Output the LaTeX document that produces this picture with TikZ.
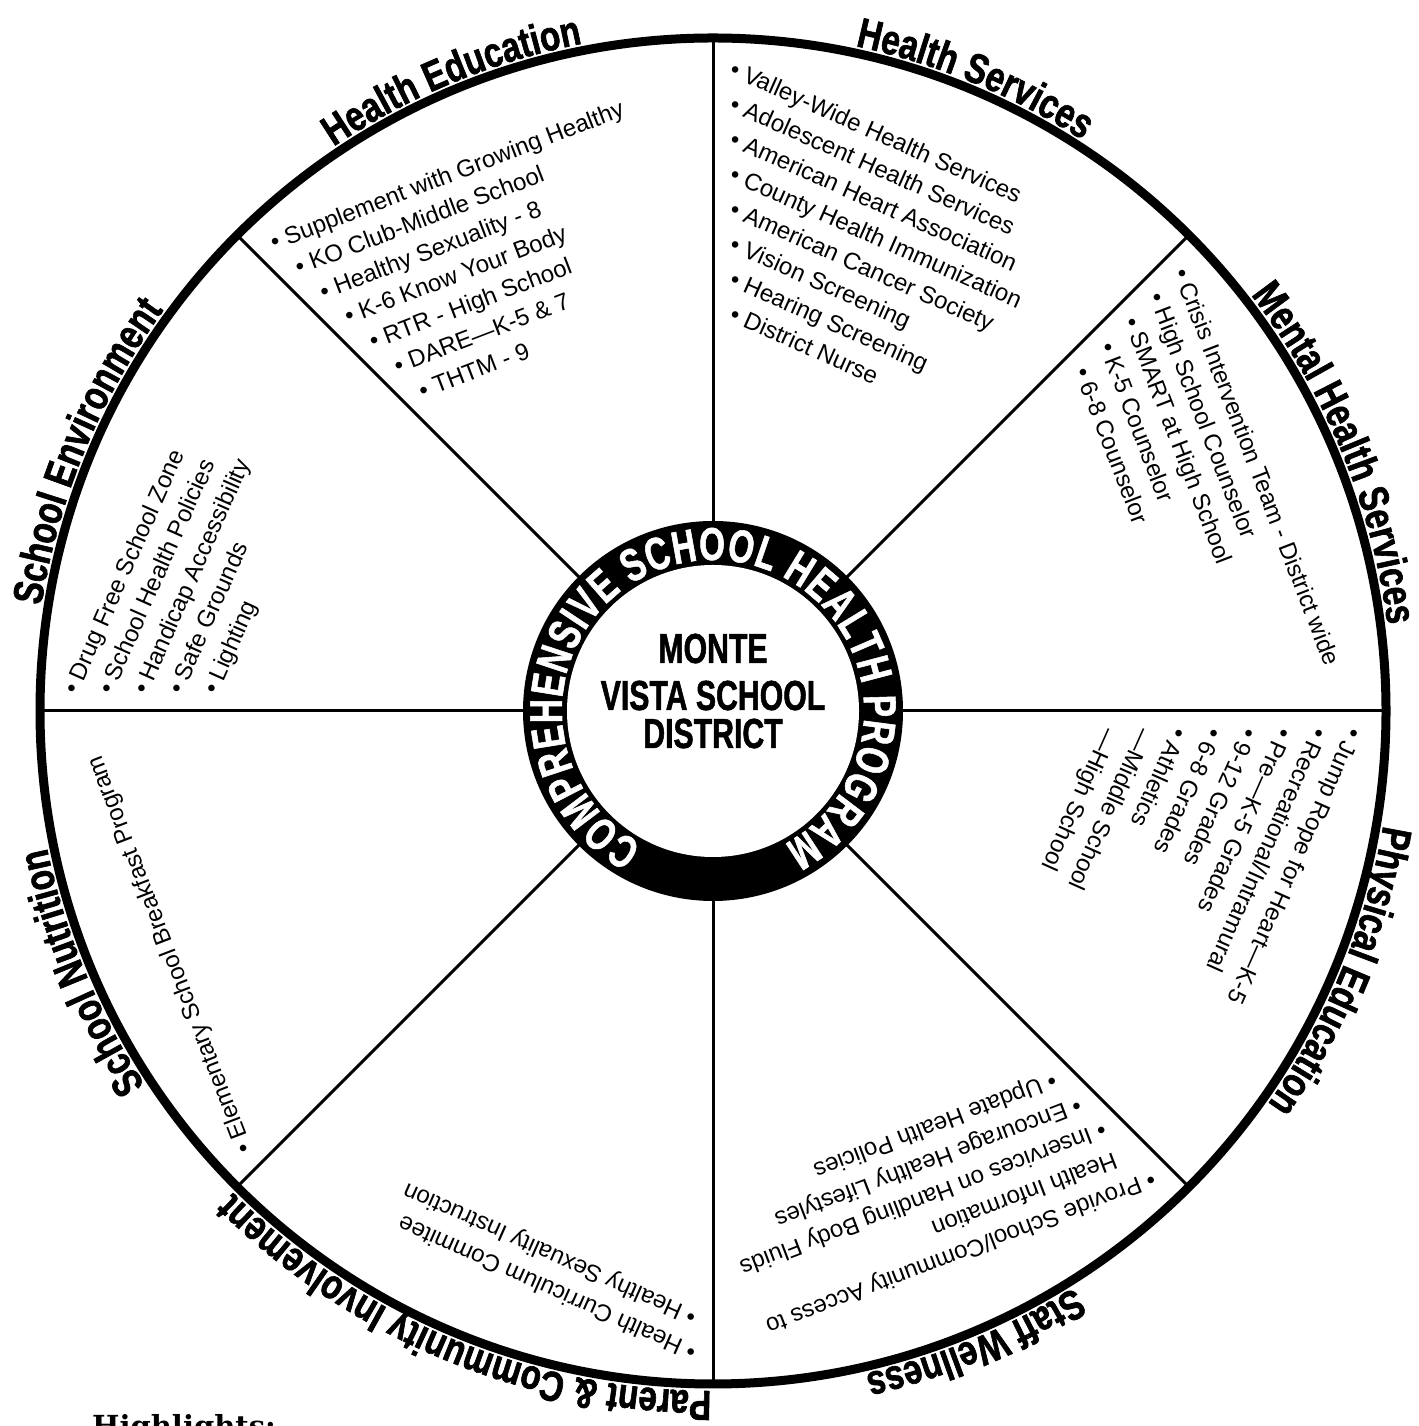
\documentclass[tikz,border=0pt]{standalone}
\usepackage{fontspec}
\setmainfont{Liberation Sans}
\newfontfamily\headfont{Liberation Sans}[FakeStretch=0.79, BoldFeatures={FakeBold=1.5}]
\newfontfamily\ringfont{Liberation Sans}[FakeStretch=0.72, BoldFeatures={FakeBold=1.2}]
\newfontfamily\ctrfont{Liberation Sans}[FakeStretch=0.72, BoldFeatures={FakeBold=1.2}]
\newfontfamily\hlfont{DejaVu Serif}
\usetikzlibrary{decorations.text}
\newcommand\hfont{\headfont\bfseries\fontsize{42}{42}\selectfont}
\tikzset{
  heading/.style={decorate, decoration={text along path, text align=center, text={|\hfont|#1}}},
  itemtext/.style={font=\fontsize{24}{24}\selectfont, anchor=base west, inner sep=0pt, rotate=-114},
  spoke/.style={line width=3pt},
  rim/.style={line width=9pt}
}
\newcommand\sectorlist[2]{%
  \begin{scope}[shift={(C)}, rotate=#1, transform shape]
    \foreach \t [count=\i] in {#2}
      \node[itemtext] (s#1-\i) at ({636-35*(\i-1)}, -15) {\t};
  \end{scope}}
\begin{document}
\begin{tikzpicture}[x=1pt,y=1pt]
\useasboundingbox (0,0) rectangle (1418,1426);
\fill[white] (0,0) rectangle (1418,1426);
\coordinate (C) at (713,715);
% spokes
\foreach \a in {0,45,...,315}
  \draw[spoke] (C) ++(\a:185) -- ++(\a:488);
% outer rim
\draw[rim] (C) circle[radius=673];
% inner ring
\fill[black] (C) circle[radius=190];
\fill[white] (C) circle[radius=146];
\path[decorate, decoration={text along path, text align={fit to path},
  text={|\ringfont\bfseries\fontsize{46}{46}\selectfont\color{white}|COMPREHENSIVE SCHOOL HEALTH PROGRAM}}]
  (C) ++(242:151) arc[start angle=242, end angle=-62, radius=151];
% center text
\node[font=\ctrfont\bfseries\fontsize{42}{42}\selectfont, anchor=base, inner sep=0pt] (c1) at (713,763) {MONTE};
\node[font=\ctrfont\bfseries\fontsize{42}{42}\selectfont, anchor=base, inner sep=0pt] (c2) at (713,716) {VISTA SCHOOL};
\node[font=\ctrfont\bfseries\fontsize{42}{42}\selectfont, anchor=base, inner sep=0pt] (c3) at (713,678) {DISTRICT};
% headings
\path[heading={Health Education}] (C) ++(152.5:680) arc[start angle=152.5, end angle=72.5, radius=680];
\path[heading={Health Services}] (C) ++(107.5:680) arc[start angle=107.5, end angle=27.5, radius=680];
\path[heading={Mental Health Services}] (C) ++(62.5:680) arc[start angle=62.5, end angle=-17.5, radius=680];
\path[heading={Physical Education}] (C) ++(17.5:680) arc[start angle=17.5, end angle=-62.5, radius=680];
\path[heading={Staff Wellness}] (C) ++(-27.5:680) arc[start angle=-27.5, end angle=-107.5, radius=680];
\path[heading={Parent {\&} Community Involvement}] (C) ++(-72.5:680) arc[start angle=-72.5, end angle=-152.5, radius=680];
\path[heading={School Nutrition}] (C) ++(-117.5:680) arc[start angle=-117.5, end angle=-197.5, radius=680];
\path[heading={School Environment}] (C) ++(197.5:680) arc[start angle=197.5, end angle=117.5, radius=680];
% sector items
\sectorlist{180}{• Drug Free School Zone, • School Health Policies, • Handicap Accessibility, • Safe Grounds, • Lighting}
\sectorlist{135}{• Supplement with Growing Healthy, • KO Club-Middle School, • Healthy Sexuality - 8, • K-6 Know Your Body, • RTR - High School, • DARE—K-5 \& 7, • THTM - 9}
\sectorlist{90}{• Valley-Wide Health Services, • Adolescent Health Services, • American Heart Association, • County Health Immunization, • American Cancer Society, • Vision Screening, • Hearing Screening, • District Nurse}
\sectorlist{45}{• Crisis Intervention Team - District wide, • High School Counselor, • SMART at High School, • K-5 Counselor, • 6-8 Counselor}
\sectorlist{0}{• Jump Rope for Heart—K-5, • Recreational/Intramural, • Pre—K-5 Grades, • 9-12 Grades, • 6-8 Grades, • Athletics, —Middle School, —High School}
\sectorlist{-45}{• Provide School/Community Access to, \phantom{• }Health Information, • Inservices on Handling Body Fluids, • Encourage Healthy Lifestyles, • Update Health Policies}
\sectorlist{-90}{• Health Curriculum Commitee, • Healthy Sexuality Instruction}
\sectorlist{-135}{• Elementary School Breakfast Program}
% highlights
\node[font=\hlfont\bfseries\fontsize{29}{29}\selectfont, anchor=base west, inner sep=0pt] (hl) at (92,-10) {Highlights:};
\end{tikzpicture}
\end{document}
